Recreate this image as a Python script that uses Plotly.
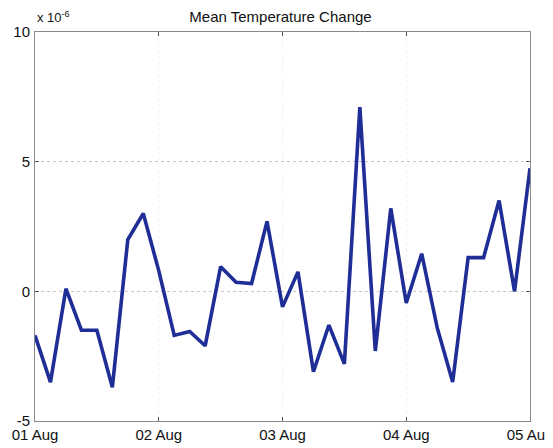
import pandas as pd
import plotly.graph_objects as go

# 3-hourly samples, 01 Aug 00:00 to 05 Aug 00:00 (values in units of 1e-6)
start_time = "2000-08-01 00:00"
step = "3h"
temp_change = [-1.7, -3.5, 0.1, -1.5, -1.5, -3.7, 2.0, 3.0,
               0.8, -1.7, -1.55, -2.1, 0.95, 0.35, 0.3, 2.7,
               -0.6, 0.75, -3.1, -1.3, -2.8, 7.1, -2.3, 3.2,
               -0.45, 1.45, -1.4, -3.5, 1.3, 1.3, 3.5, 0.0,
               4.75]
y_ticks = [-5, 0, 5, 10]
x_tick_days = ["2000-08-01", "2000-08-02", "2000-08-03", "2000-08-04", "2000-08-05"]
x_tick_labels = ["01 Aug", "02 Aug", "03 Aug", "04 Aug", "05 Aug"]

times = pd.date_range(start_time, periods=len(temp_change), freq=step)

FONT = 'Liberation Sans, Arial'

fig = go.Figure()
fig.add_trace(go.Scatter(
    x=times, y=temp_change, mode='lines',
    line=dict(color='#1f2d96', width=3.6),
    showlegend=False,
))

axis_common = dict(
    showline=True, linecolor='#8a8a8a', linewidth=1, mirror='ticks',
    ticks='inside', ticklen=4, tickcolor='#555555',
    showgrid=True, griddash='dot', gridwidth=1,
    zeroline=False, automargin=False, ticklabeloverflow='allow',
    tickfont=dict(family=FONT, size=15, color='#111111'),
)

fig.update_xaxes(
    range=[times[0], times[-1]],
    tickvals=pd.to_datetime(x_tick_days), ticktext=x_tick_labels,
    gridcolor='#f0f0f0', ticklabelstandoff=0,
    **axis_common,
)
fig.update_yaxes(
    range=[-5, 10], tickvals=y_ticks, ticktext=[str(v) for v in y_ticks],
    gridcolor='#c8c8c8', ticklabelstandoff=1,
    **axis_common,
)

# page body has an 8px default margin, so the figure is sized to fit inside it
fig.update_layout(
    width=545, height=440,
    plot_bgcolor='white', paper_bgcolor='white',
    margin=dict(l=27, r=23, t=24, b=27),
    title=dict(text='Mean Temperature Change', x=0.5, xanchor='center',
               y=0.98, yanchor='middle',
               font=dict(family=FONT, size=15, color='#111111')),
    annotations=[dict(
        text='x 10<sup>-6</sup>', xref='paper', yref='paper', x=0, y=1,
        xanchor='left', yanchor='bottom', showarrow=False, xshift=0, yshift=5,
        font=dict(family=FONT, size=13, color='#111111'),
    )],
)

fig.write_html("out.html")
